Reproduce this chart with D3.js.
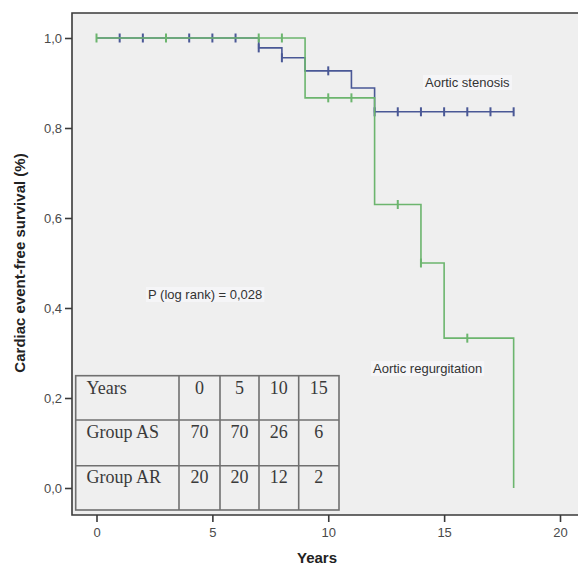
<!DOCTYPE html>
<html>
<head>
<meta charset="utf-8">
<script src="https://cdn.jsdelivr.net/npm/d3@7"></script>
<style>
  html, body { margin: 0; padding: 0; background: #ffffff; }
  svg { display: block; }
</style>
</head>
<body>
<div id="chart"></div>
<script>
// Kaplan–Meier step data: event times and survival after each step
const asTimes = [0, 7, 8, 9, 11, 12, 18];
const asSurv  = [1.0, 0.978, 0.956, 0.927, 0.889, 0.836, 0.836];
const arTimes = [0, 9, 12, 14, 15, 18];
const arSurv  = [1.0, 0.867, 0.63, 0.50, 0.333, 0.0];

// Censored observations (years)
const asCensored = [1, 2, 4, 5, 6, 7, 8, 10, 12, 13, 14, 15, 16, 17, 18];
const arCensored = [0, 3, 7, 8, 10, 11, 13, 14, 16];

// Axis ticks
const xTicks = [0, 5, 10, 15, 20];
const yTicks = [0, 0.2, 0.4, 0.6, 0.8, 1.0];

// Number-at-risk table
const tableYears = [0, 5, 10, 15];
const riskAS = [70, 70, 26, 6];
const riskAR = [20, 20, 12, 2];

const W = 578, H = 571;
const frame = { left: 72, top: 13, right: 592, bottom: 515 };

const svg = d3.select("#chart").append("svg")
  .attr("width", W).attr("height", H)
  .style("font-family", "'Liberation Sans', Arial, sans-serif");

const x = d3.scaleLinear().domain([0, 20]).range([96.5, 560]);
const y = d3.scaleLinear().domain([0, 1]).range([488, 38]);

// plot background
svg.append("rect")
  .attr("x", frame.left).attr("y", frame.top)
  .attr("width", frame.right - frame.left).attr("height", frame.bottom - frame.top)
  .attr("fill", "#efefef");

// frame (left, top, bottom)
svg.append("path")
  .attr("d", `M${frame.right},${frame.top}H${frame.left}V${frame.bottom}H${frame.right}`)
  .attr("fill", "none").attr("stroke", "#3a3a3a").attr("stroke-width", 1.6);

// y axis ticks
const yAxis = d3.axisLeft(y).tickValues(yTicks).tickSize(7).tickPadding(3)
  .tickFormat(d => d3.format(".1f")(d).replace(".", ","));
const gy = svg.append("g").attr("transform", `translate(${frame.left},0)`).call(yAxis);
gy.select(".domain").remove();
gy.selectAll(".tick line").attr("stroke", "#3a3a3a").attr("stroke-width", 1.6);
gy.selectAll(".tick text").attr("fill", "#4a4a4a").style("font-size", "13px")
  .style("font-family", "'Liberation Sans', Arial, sans-serif");

// x axis ticks
const xAxis = d3.axisBottom(x).tickValues(xTicks).tickSize(7).tickPadding(6)
  .tickFormat(d3.format("d"));
const gx = svg.append("g").attr("transform", `translate(0,${frame.bottom})`).call(xAxis);
gx.select(".domain").remove();
gx.selectAll(".tick line").attr("stroke", "#3a3a3a").attr("stroke-width", 1.6);
gx.selectAll(".tick text").attr("fill", "#4a4a4a").style("font-size", "13px")
  .style("font-family", "'Liberation Sans', Arial, sans-serif");

// axis titles
svg.append("text")
  .attr("x", 317).attr("y", 563)
  .attr("text-anchor", "middle")
  .attr("font-weight", "bold").attr("font-size", 15).attr("fill", "#222")
  .text("Years");
svg.append("text")
  .attr("transform", "translate(25,263) rotate(-90)")
  .attr("text-anchor", "middle")
  .attr("font-weight", "bold").attr("font-size", 15).attr("fill", "#222")
  .text("Cardiac event-free survival (%)");

// survival curves
const stepLine = d3.line()
  .x(d => x(d[0])).y(d => y(d[1]))
  .curve(d3.curveStepAfter);

const curves = [
  { times: asTimes, surv: asSurv, cens: asCensored, color: "#4a5896" },
  { times: arTimes, surv: arSurv, cens: arCensored, color: "#6cb56e" }
];

function survAt(times, surv, t) {
  let v = surv[0];
  for (let i = 0; i < times.length; i++) if (times[i] <= t) v = surv[i];
  return v;
}

curves.forEach(c => {
  const pts = c.times.map((t, i) => [t, c.surv[i]]);
  svg.append("path")
    .datum(pts)
    .attr("d", stepLine)
    .attr("fill", "none")
    .attr("stroke", c.color)
    .attr("stroke-width", 1.6);

  svg.append("g").selectAll("line")
    .data(c.cens)
    .join("line")
    .attr("x1", d => x(d)).attr("x2", d => x(d))
    .attr("y1", d => y(survAt(c.times, c.surv, d)) - 4.5)
    .attr("y2", d => y(survAt(c.times, c.surv, d)) + 4.5)
    .attr("stroke", c.color)
    .attr("stroke-width", 2);
});

// annotations
function label(text, lx, ly) {
  const t = svg.append("text")
    .attr("x", lx).attr("y", ly)
    .attr("font-size", 13).attr("fill", "#333")
    .text(text);
  const bb = t.node().getBBox();
  svg.insert("rect", () => t.node())
    .attr("x", bb.x - 2).attr("y", bb.y)
    .attr("width", bb.width + 4).attr("height", bb.height)
    .attr("fill", "#f5f5f7");
}
label("Aortic stenosis", 425, 87);
label("Aortic regurgitation", 373, 373);
label("P (log rank) = 0,028", 148, 299);

// number-at-risk table
const tbl = svg.append("g").style("font-family", "'Liberation Serif', 'Times New Roman', serif");
const colEdges = [75.7, 179, 220, 259, 298.7, 339];
const rowEdges = [375.7, 420, 465.7, 510];
tbl.append("rect")
  .attr("x", colEdges[0]).attr("y", rowEdges[0])
  .attr("width", colEdges[5] - colEdges[0]).attr("height", rowEdges[3] - rowEdges[0])
  .attr("fill", "#efefef").attr("stroke", "#707070").attr("stroke-width", 1.6);
colEdges.slice(1, 5).forEach(cx => {
  tbl.append("line").attr("x1", cx).attr("x2", cx)
    .attr("y1", rowEdges[0]).attr("y2", rowEdges[3])
    .attr("stroke", "#707070").attr("stroke-width", 1.6);
});
rowEdges.slice(1, 3).forEach(ry => {
  tbl.append("line").attr("x1", colEdges[0]).attr("x2", colEdges[5])
    .attr("y1", ry).attr("y2", ry)
    .attr("stroke", "#707070").attr("stroke-width", 1.6);
});
const rows = [
  { name: "Years", vals: tableYears },
  { name: "Group AS", vals: riskAS },
  { name: "Group AR", vals: riskAR }
];
const baselines = [394, 438, 483];
rows.forEach((r, i) => {
  tbl.append("text")
    .attr("x", 86.5).attr("y", baselines[i])
    .attr("font-size", 18).attr("fill", "#3a3a3a")
    .text(r.name);
  r.vals.forEach((v, j) => {
    tbl.append("text")
      .attr("x", (colEdges[j + 1] + colEdges[j + 2]) / 2).attr("y", baselines[i])
      .attr("text-anchor", "middle")
      .attr("font-size", 18).attr("fill", "#3a3a3a")
      .text(v);
  });
});
</script>
</body>
</html>
